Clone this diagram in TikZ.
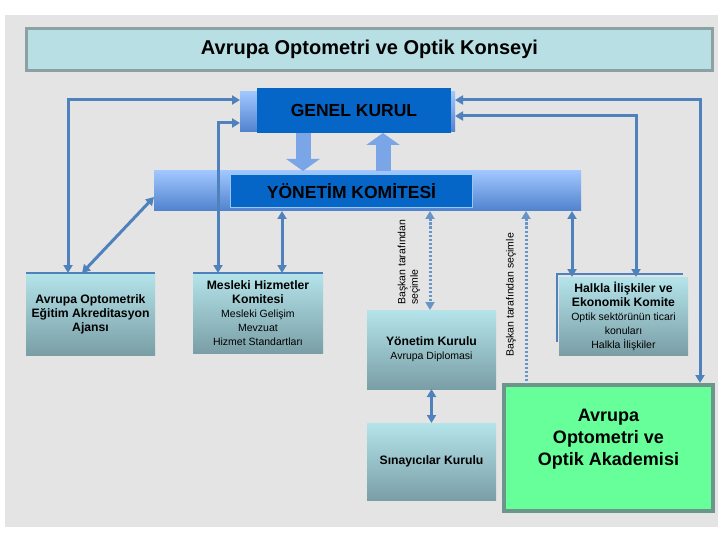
\documentclass[tikz,border=0pt]{standalone}
\usepackage{fontspec}
\setmainfont{Liberation Sans}
\usepackage{tikz}
\usetikzlibrary{arrows.meta,positioning}
\definecolor{bgG}{RGB}{228,228,228}
\definecolor{titleF}{RGB}{184,224,228}
\definecolor{titleD}{RGB}{140,162,162}
\definecolor{deepB}{RGB}{6,102,200}
\definecolor{frameB}{RGB}{150,200,245}
\definecolor{skyL}{RGB}{160,198,255}
\definecolor{skyD}{RGB}{80,130,205}
\definecolor{tealL}{RGB}{180,228,234}
\definecolor{tealM}{RGB}{164,208,215}
\definecolor{tealD}{RGB}{122,158,166}
\definecolor{lineB}{RGB}{79,129,189}
\definecolor{arrowB}{RGB}{122,166,232}
\definecolor{akadG}{RGB}{102,255,153}
\definecolor{akadD}{RGB}{108,150,140}
\newcommand\subtxt{\fontsize{10.5}{12.5}\selectfont\mdseries}

\begin{document}
\begin{tikzpicture}[
  x=1pt, y=-1pt,
  titlebox/.style={rectangle, fill=titleF, draw=titleD, line width=3pt, font=\fontsize{20}{24}\selectfont\bfseries},
  bluebox/.style={rectangle, fill=deepB, outer sep=0pt, inner sep=0pt, font=\fontsize{17.5}{20}\selectfont\bfseries},
  paleblue/.style={rectangle, top color=skyL, bottom color=skyD, outer sep=0pt, inner sep=0pt},
  tealbox/.style={rectangle, top color=tealL, middle color=tealM, bottom color=tealD, inner sep=2pt, outer sep=0pt, align=center, font=\fontsize{12.2}{14}\selectfont\bfseries},
  akbox/.style={rectangle, fill=akadG, draw=akadD, line width=4pt, align=center, font=\fontsize{18}{22}\selectfont\bfseries},
  conn/.style={draw=lineB, line width=3pt, <->},
  dotconn/.style={draw=lineB!85, line width=3pt, dash pattern=on 2.5pt off 1.5pt},
  bigarrow/.style={draw=arrowB, line width=15pt, -{Triangle[width=33pt,length=12pt]}},
  edgeline/.style={draw=lineB, line width=1.5pt},
  vlabel/.style={rotate=90, anchor=west, align=left, inner sep=0pt, font=\fontsize{10.5}{12.5}\selectfont},
  >={Triangle[width=9pt,length=8pt]}]

  \useasboundingbox (0,0) rectangle (720,540);
  \fill[bgG] (5,15) rectangle (718,527);

  % title
  \node[titlebox, minimum width=686pt, minimum height=42pt] (konsey) at (369.5,49.5) {Avrupa Optometri ve Optik Konseyi};

  % general assembly and executive committee
  \node[paleblue, minimum width=215pt, minimum height=40pt] (gkback) at (347.5,112) {};
  \node[bluebox, minimum width=194pt, minimum height=45pt] (gk) at (354,110.5) {GENEL KURUL};
  \node[paleblue, minimum width=427pt, minimum height=40pt] (ykback) at (367.5,191) {};
  \node[bluebox, draw=frameB, line width=1pt, minimum width=242pt, minimum height=33pt] (ykom) at (351.5,191) {YÖNETİM KOMİTESİ};

  % committees
  \node[tealbox, minimum width=129pt, minimum height=82pt] (ajans) at (90.5,314) {Avrupa Optometrik\\Eğitim Akreditasyon\\Ajansı};
  \node[tealbox, minimum width=130pt, minimum height=80pt] (mhk) at (258,313) {Mesleki Hizmetler\\Komitesi\\\subtxt Mesleki Gelişim\\\subtxt Mevzuat\\\subtxt Hizmet Standartları};
  \node[tealbox, minimum width=129pt, minimum height=79pt] (ykur) at (431.5,349.5) {Yönetim Kurulu\\\subtxt Avrupa Diplomasi};
  \node[tealbox, minimum width=129pt, minimum height=77pt] (sk) at (431.5,461.5) {Sınayıcılar Kurulu};
  \node[tealbox, minimum width=129pt, minimum height=78pt] (hek) at (623.5,316) {Halkla İlişkiler ve\\Ekonomik Komite\\\subtxt Optik sektörünün ticari\\\subtxt konuları\\\subtxt Halkla İlişkiler};
  \node[akbox, minimum width=209pt, minimum height=126pt] (akad) at (608.5,448) {Avrupa\\Optometri ve\\Optik Akademisi\\\mbox{}};

  % thin frame lines on the committee boxes
  \draw[edgeline] (ajans.north west) -- (ajans.north east);
  \draw[edgeline] (mhk.north west) -- (mhk.north east);
  \draw[edgeline] ([shift={(-2,65)}]hek.north west) -- ([shift={(-2,-3)}]hek.north west) -- ([shift={(-5,-3)}]hek.north east);

  % block arrows between the assembly and the committee
  \draw[bigarrow] (gk.south -| 303,0) -- (ykback.north -| 303,0);
  \draw[bigarrow] (ykback.north -| 383,0) -- (gk.south -| 383,0);

  % links to the general assembly
  \draw[conn] (gkback.west |- 0,100) -| (ajans.north -| 68,0);
  \draw[conn] (gkback.west |- 0,123) -| (mhk.north -| 218,0);
  \draw[conn] (gkback.east |- 0,100) -| (akad.north -| 700,0);
  \draw[conn] (gkback.east |- 0,116) -| (hek.north -| 636,0);

  % links to the executive committee
  \draw[conn] (ajans.north -| 82,0) -- (ykback.west |- 0,197);
  \draw[conn] (ykback.south -| 282,0) -- (mhk.north -| 282,0);
  \draw[conn] (ykback.south -| 572,0) -- (hek.north -| 572,0);
  \draw[dotconn, <->] (ykback.south -| 430,0) -- (ykur.north -| 430,0);
  \draw[dotconn, <-] (ykback.south -| 526,0) -- (akad.north -| 526,0);
  \draw[conn] (ykur.south) -- (sk.north);

  % appointment labels
  \node[vlabel] (secim1) at (409,305) {Başkan tarafından\\seçimle};
  \node[vlabel] (secim2) at (511,357) {Başkan tarafından seçimle};
\end{tikzpicture}
\end{document}
